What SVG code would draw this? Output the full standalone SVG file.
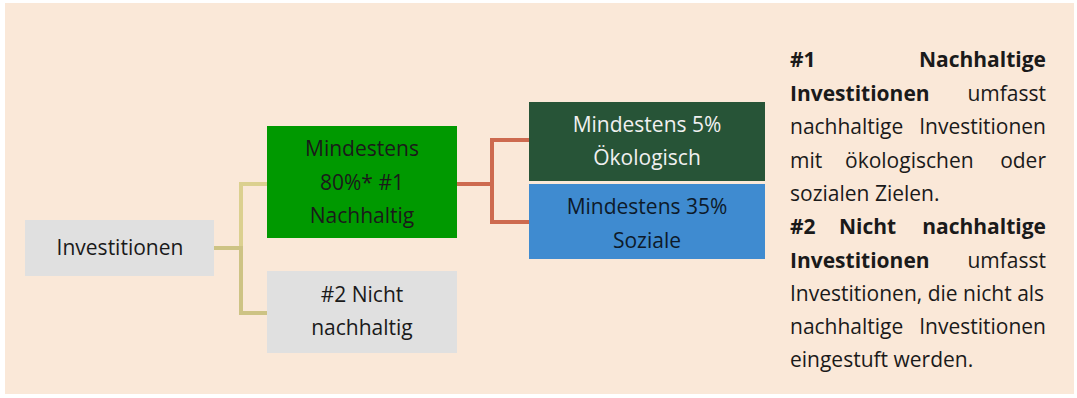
<svg xmlns="http://www.w3.org/2000/svg" width="1077" height="398" viewBox="0 0 1077 398">
<style>
text{font-family:"Open Sans","Noto Sans","Liberation Sans",sans-serif;font-size:21px;fill:#1a1a1a}
.c{text-anchor:middle}
.e{text-anchor:end}
.b{font-weight:bold}
.w{fill:#f0f0f0}
.dk{fill:#0d1a2a}
.tan1{fill:none;stroke:#dbd08f;stroke-width:4}
.tan2{fill:none;stroke:#cdc384;stroke-width:4}
.red{fill:none;stroke:#cd6a4f;stroke-width:4}
</style>
<rect width="1077" height="398" fill="#ffffff"/>
<rect x="5" y="3" width="1069" height="391" fill="#fae8d8"/>
<g id="connectors">
<path class="tan1" d="M213 248 H241 V184 H267"/>
<path class="tan2" d="M213 248 H241 V313 H267"/>
<path class="red" d="M456 184 H492 V140 H529"/>
<path class="red" d="M456 184 H492 V222 H529"/>
</g>
<g id="n-investitionen">
<rect x="25" y="220" width="189" height="56" fill="#e0e0e0"/>
<text class="c" x="120" y="255">Investitionen</text>
</g>
<g id="n-nachhaltig">
<rect x="267" y="126" width="190" height="112" fill="#009900"/>
<text class="c" x="362" y="156">Mindestens</text>
<text class="c" x="362" y="190">80%* #1</text>
<text class="c" x="362" y="223">Nachhaltig</text>
</g>
<g id="n-nicht">
<rect x="267" y="271" width="190" height="82" fill="#e0e0e0"/>
<text class="c" x="362" y="302">#2 Nicht</text>
<text class="c" x="362" y="335">nachhaltig</text>
</g>
<g id="n-oeko">
<rect x="529" y="102" width="236" height="79" fill="#275437"/>
<text class="c w" x="647" y="132">Mindestens 5%</text>
<text class="c w" x="647" y="165">Ökologisch</text>
</g>
<g id="n-sozial">
<rect x="529" y="184" width="236" height="75" fill="#3f8bd0"/>
<text class="c dk" x="647" y="214">Mindestens 35%</text>
<text class="c dk" x="647" y="248">Soziale</text>
</g>
<g id="legend">
<text class="b" x="790" y="67">#1</text>
<text class="b e" x="1046" y="67">Nachhaltige</text>
<text class="b" x="790" y="101">Investitionen</text>
<text class="e" x="1046" y="101">umfasst</text>
<text x="790" y="134">nachhaltige</text>
<text class="e" x="1046" y="134">Investitionen</text>
<text x="790" y="168">mit</text>
<text x="845" y="168">ökologischen</text>
<text class="e" x="1046" y="168">oder</text>
<text x="790" y="201">sozialen Zielen.</text>
<text class="b" x="790" y="234">#2</text>
<text class="b" x="839" y="234">Nicht</text>
<text class="b e" x="1046" y="234">nachhaltige</text>
<text class="b" x="790" y="268">Investitionen</text>
<text class="e" x="1046" y="268">umfasst</text>
<text x="790" y="301">Investitionen, die nicht als</text>
<text x="790" y="334">nachhaltige</text>
<text class="e" x="1046" y="334">Investitionen</text>
<text x="790" y="367">eingestuft werden.</text>
</g>
</svg>
